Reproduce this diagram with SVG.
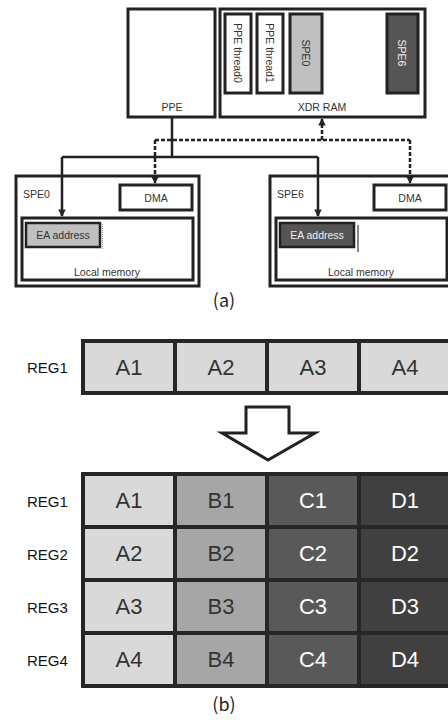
<svg xmlns="http://www.w3.org/2000/svg" width="448" height="720" viewBox="0 0 448 720">
<defs>
<style>
.bx{fill:#fff;stroke:#222;stroke-width:3}
.t{font-family:"Liberation Sans",Arial,sans-serif;font-size:10.5px;fill:#333}
.c{text-anchor:middle}
.ln{fill:none;stroke:#222;stroke-width:2.5}
.dl{fill:none;stroke:#222;stroke-width:2.5;stroke-dasharray:4 2}
.cap{font-family:"Noto Sans CJK KR","DejaVu Sans",sans-serif;font-size:18px;fill:#222;text-anchor:middle}
.cell{stroke:#262626;stroke-width:4}
.ct{font-family:"Liberation Sans",Arial,sans-serif;font-size:22px;text-anchor:middle}
.rl{font-family:"Liberation Sans",Arial,sans-serif;font-size:15px;fill:#111}
</style>
<marker id="ah" viewBox="0 0 8 8" refX="7" refY="4" markerWidth="3" markerHeight="3" orient="auto" markerUnits="strokeWidth">
<path d="M0,0 L8,4 L0,8 z" fill="#222"/>
</marker>
</defs>
<rect width="448" height="720" fill="#fff"/>

<g id="ppe">
<rect class="bx" x="128" y="9" width="87" height="108"/>
<text class="t c" x="172" y="111">PPE</text>
</g>
<g id="xdr">
<rect class="bx" x="220" y="9" width="205" height="108"/>
<text class="t c" x="322" y="111">XDR RAM</text>
<g id="thread0"><rect class="bx" x="225" y="14" width="26" height="79"/><text class="t c" transform="translate(238,53) rotate(90)" y="4">PPE thread0</text></g>
<g id="thread1"><rect class="bx" x="257" y="14" width="26" height="79"/><text class="t c" transform="translate(270,53) rotate(90)" y="4">PPE thread1</text></g>
<g id="xspe0"><rect class="bx" x="290" y="14" width="32" height="79" style="fill:#c0c0c0"/><text class="t c" transform="translate(306,53) rotate(90)" y="4">SPE0</text></g>
<g id="xspe6"><rect class="bx" x="387" y="14" width="31" height="79" style="fill:#555"/><text class="t c" transform="translate(402,53) rotate(90)" y="4" style="fill:#eee">SPE6</text></g>
</g>

<g id="spe0">
<rect class="bx" x="16" y="176" width="183" height="110"/>
<text class="t" x="23" y="198">SPE0</text>
<rect class="bx" x="120" y="185" width="72" height="25"/>
<text class="t c" x="156" y="202">DMA</text>
<rect class="bx" x="22" y="218" width="171" height="62"/>
<text class="t c" x="107" y="276">Local memory</text>
<rect class="bx" x="26" y="223" width="74" height="24" style="fill:#c0c0c0;stroke-width:2.5"/>
<text class="t c" x="63" y="239">EA address</text>
<line x1="102.5" y1="224" x2="102.5" y2="250" stroke="#888" stroke-width="0.8" stroke-dasharray="1 1"/>
</g>
<g id="spe6">
<rect class="bx" x="270" y="176" width="183" height="110"/>
<text class="t" x="277" y="198">SPE6</text>
<rect class="bx" x="374" y="185" width="72" height="25"/>
<text class="t c" x="410" y="202">DMA</text>
<rect class="bx" x="276" y="218" width="171" height="62"/>
<text class="t c" x="361" y="276">Local memory</text>
<rect class="bx" x="280" y="223" width="74" height="24" style="fill:#555;stroke-width:2.5"/>
<text class="t c" x="317" y="239" style="fill:#eee">EA address</text>
<line x1="358" y1="225" x2="358" y2="252" stroke="#111" stroke-width="1"/>
</g>

<g id="connectors">
<polyline class="ln" points="172,117 172,157"/>
<polyline class="ln" points="62,157 318,157"/>
<polyline class="ln" points="62,157 62,216" marker-end="url(#ah)"/>
<polyline class="ln" points="318,157 318,216" marker-end="url(#ah)"/>
<polyline class="dl" points="322,140 322,119" marker-end="url(#ah)"/>
<polyline class="dl" points="155,140 410,140"/>
<polyline class="dl" points="155,140 155,183" marker-end="url(#ah)"/>
<polyline class="dl" points="410,140 410,183" marker-end="url(#ah)"/>
</g>

<text class="cap" x="224" y="307">(a)</text>

<g id="reg1-top">
<text class="rl" x="27" y="373">REG1</text>
<rect class="cell" x="83" y="341" width="92" height="52" fill="#d9d9d9"/>
<rect class="cell" x="175" y="341" width="92" height="52" fill="#d9d9d9"/>
<rect class="cell" x="267" y="341" width="92" height="52" fill="#d9d9d9"/>
<rect class="cell" x="359" y="341" width="92" height="52" fill="#d9d9d9"/>
<text class="ct" x="129" y="375" fill="#333">A1</text>
<text class="ct" x="221" y="375" fill="#333">A2</text>
<text class="ct" x="313" y="375" fill="#333">A3</text>
<text class="ct" x="405" y="375" fill="#333">A4</text>
</g>

<g id="arrow">
<polygon points="246,407 289,407 289,433 315,433 268,460 222,433 246,433" fill="#fff" stroke="#222" stroke-width="3"/>
</g>

<g id="grid">
<g fill="#d9d9d9" class="cell">
<rect x="83" y="474" width="92" height="53"/><rect x="83" y="527" width="92" height="53"/><rect x="83" y="580" width="92" height="53"/><rect x="83" y="633" width="92" height="53"/>
</g>
<g fill="#a6a6a6" class="cell">
<rect x="175" y="474" width="92" height="53"/><rect x="175" y="527" width="92" height="53"/><rect x="175" y="580" width="92" height="53"/><rect x="175" y="633" width="92" height="53"/>
</g>
<g fill="#595959" class="cell">
<rect x="267" y="474" width="92" height="53"/><rect x="267" y="527" width="92" height="53"/><rect x="267" y="580" width="92" height="53"/><rect x="267" y="633" width="92" height="53"/>
</g>
<g fill="#404040" class="cell">
<rect x="359" y="474" width="92" height="53"/><rect x="359" y="527" width="92" height="53"/><rect x="359" y="580" width="92" height="53"/><rect x="359" y="633" width="92" height="53"/>
</g>
<text class="rl" x="27" y="507">REG1</text>
<text class="rl" x="27" y="560">REG2</text>
<text class="rl" x="27" y="613">REG3</text>
<text class="rl" x="27" y="666">REG4</text>
<g class="ct" fill="#333">
<text x="129" y="508">A1</text><text x="129" y="561">A2</text><text x="129" y="614">A3</text><text x="129" y="667">A4</text>
<text x="221" y="508">B1</text><text x="221" y="561">B2</text><text x="221" y="614">B3</text><text x="221" y="667">B4</text>
</g>
<g class="ct" fill="#fff">
<text x="313" y="508">C1</text><text x="313" y="561">C2</text><text x="313" y="614">C3</text><text x="313" y="667">C4</text>
<text x="405" y="508">D1</text><text x="405" y="561">D2</text><text x="405" y="614">D3</text><text x="405" y="667">D4</text>
</g>
</g>

<text class="cap" x="224" y="711">(b)</text>
</svg>
